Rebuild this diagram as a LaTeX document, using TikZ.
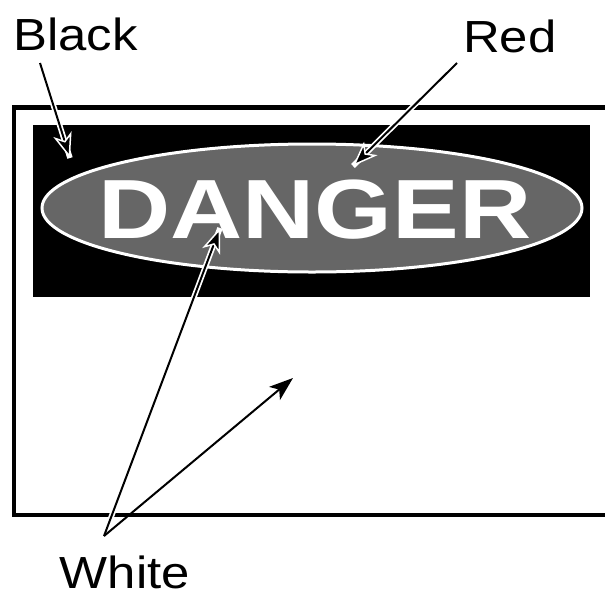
\documentclass[tikz,border=0pt]{standalone}
\usepackage{fontspec}
\usetikzlibrary{arrows.meta}
\newfontfamily\labelfont[FakeStretch=1.13]{Liberation Sans}
\newfontfamily\signfont[FakeStretch=1.19]{Liberation Sans Bold}
\definecolor{halftone}{gray}{0.40}
\tikzset{
  labeltext/.style={inner sep=0pt, font=\labelfont\fontsize{45}{50}\selectfont},
  haloarrow/.style={line width=2pt, preaction={draw=white, line width=5.5pt, -},
    -{Stealth[length=25pt, width=19pt, inset=7pt, fill=black, color=white, line width=1.5pt]}},
  plainarrow/.style={line width=2pt, -{Stealth[length=24pt, width=17pt, inset=6pt]}},
}
\begin{document}
\begin{tikzpicture}[x=1pt,y=-1pt]
\useasboundingbox (0,0) rectangle (605,592);
\clip (0,0) rectangle (605,592);
\fill[white] (0,0) rectangle (605,592);
% sign
\draw[line width=4.5pt] (14,107.5) rectangle (700,515);
\fill[black] (33,125) rectangle (590,297);
\draw[white, line width=3pt, fill=halftone] (312,208) ellipse [x radius=270, y radius=64];
\node[anchor=base, inner sep=0pt, text=white, font=\signfont\fontsize{84}{90}\selectfont] (danger) at (315,238) {DANGER};
% labels
\node[labeltext, anchor=base west] (black) at (13,50) {Black};
\node[labeltext, anchor=base west] (red) at (463,52) {Red};
\node[labeltext, anchor=base east] (white) at (190,588) {White};
% arrow ends
\coordinate (blackstart) at (40,63);
\coordinate (blacktip) at (70,158);
\coordinate (redstart) at (457,63);
\coordinate (redtip) at (353,166);
\coordinate (whitev) at (104,536);
\coordinate (whitetipA) at (220,228);
\coordinate (whitetipB) at (293,378);
% arrows
\draw[haloarrow] (blackstart) -- (blacktip);
\draw[haloarrow] (redstart) -- (redtip);
\draw[haloarrow] (whitev) -- (whitetipA);
\draw[plainarrow] (whitev) -- (whitetipB);
\end{tikzpicture}
\end{document}
